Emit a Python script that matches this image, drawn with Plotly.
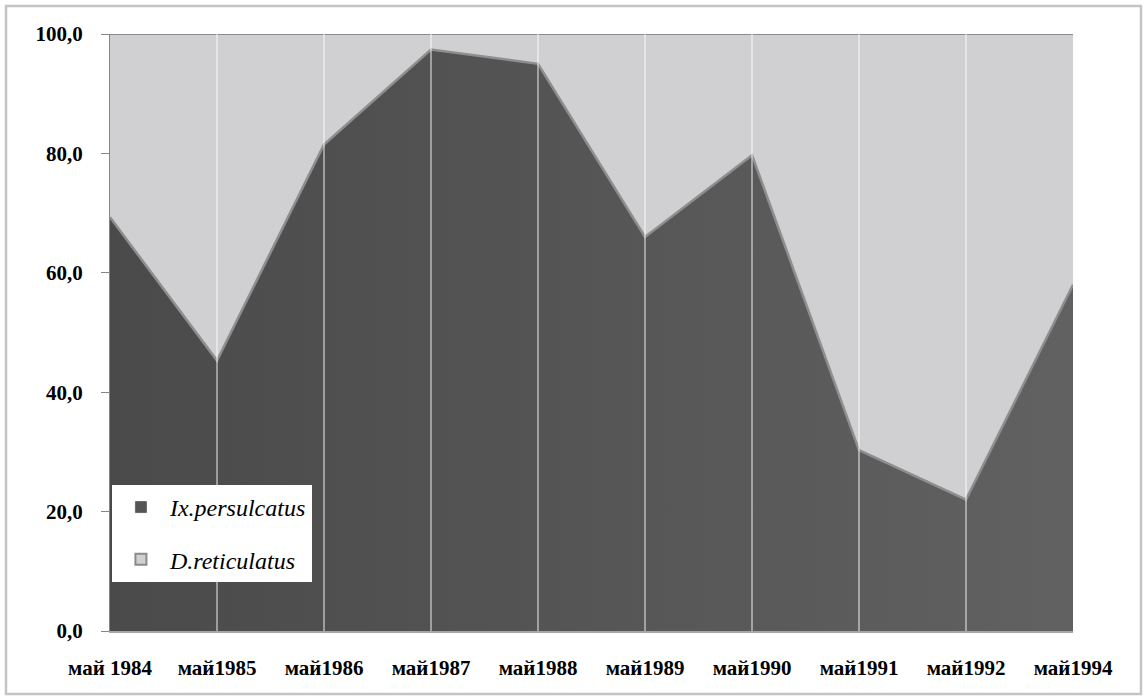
import plotly.graph_objects as go

# Survey dates (category labels) and the share of each tick species, %
dates = ["май 1984", "май1985", "май1986", "май1987", "май1988",
         "май1989", "май1990", "май1991", "май1992", "май1994"]
ix_persulcatus = [69.3, 45.3, 81.5, 97.4, 95.0, 66.0, 79.7, 30.3, 22.0, 58.0]
d_reticulatus = [30.7, 54.7, 18.5, 2.6, 5.0, 34.0, 20.3, 69.7, 78.0, 42.0]
y_ticks = [0, 20, 40, 60, 80, 100]

xs = list(range(len(dates)))
stack_top = [a + b for a, b in zip(ix_persulcatus, d_reticulatus)]

TICK_FONT = dict(family="Liberation Serif", size=21, color="#000000", weight="bold")
LEG_FONT = dict(family="Liberation Serif", size=24, color="#000000", style="italic")

fig = go.Figure()

# lower band: Ix. persulcatus, dark fill shading left to right
fig.add_trace(go.Scatter(
    x=xs, y=ix_persulcatus, mode="lines", fill="tozeroy",
    fillgradient=dict(type="horizontal",
                      colorscale=[[0, "#4a4a4a"], [1, "#616161"]]),
    line=dict(color="#8e8e8e", width=2.5),
    showlegend=False, hoverinfo="skip",
))
# upper band: D. reticulatus, stacked up to 100 %
fig.add_trace(go.Scatter(
    x=xs, y=stack_top, mode="lines", fill="tonexty",
    fillcolor="#d0cfd1",
    line=dict(color="#8a8a8a", width=2),
    showlegend=False, hoverinfo="skip",
))

# legend entries with square swatches
fig.add_trace(go.Scatter(
    x=[None], y=[None], mode="markers", name="Ix.persulcatus",
    legendgroup="ix",
    marker=dict(symbol="square", size=11, color="#555555",
                line=dict(color="#6a6a6a", width=1)),
))
fig.add_trace(go.Scatter(
    x=[None], y=[None], mode="markers", name="D.reticulatus",
    legendgroup="dr",
    marker=dict(symbol="square", size=11, color="#d0cfd1",
                line=dict(color="#8a8a8a", width=2)),
))

# vertical category gridlines, drawn over the filled areas
grid_shapes = [
    dict(type="line", xref="x", yref="paper", x0=x, x1=x, y0=0, y1=1,
         line=dict(color="rgba(255,255,255,0.45)", width=2), layer="above")
    for x in xs[1:-1]
]

frame = dict(
    type="rect", xref="paper", yref="paper",
    x0=-0.108, x1=1.0706, y0=-0.1055, y1=1.0469,
    line=dict(color="#c4c4c4", width=2.5), fillcolor="rgba(0,0,0,0)",
    layer="below",
)

fig.update_layout(
    width=1144, height=700,
    margin=dict(l=110, r=71, t=34, b=69),
    paper_bgcolor="#ffffff", plot_bgcolor="#ffffff",
    separators=", ",
    showlegend=True,
    legend=dict(
        x=0.002, y=0.2446, xanchor="left", yanchor="top",
        bgcolor="#ffffff", borderwidth=0,
        font=LEG_FONT, tracegroupgap=18, itemwidth=48,
        traceorder="grouped",
    ),
    xaxis=dict(
        range=[0, len(dates) - 1], tickvals=xs, ticktext=dates,
        showgrid=False, zeroline=False,
        showline=True, linecolor="#a6a6a6", linewidth=2,
        ticks="", ticklabelstandoff=17, tickfont=TICK_FONT,
    ),
    yaxis=dict(
        range=[0, 100], tickvals=y_ticks, tickformat=".1f",
        showgrid=False, zeroline=False,
        showline=True, linecolor="#868686", linewidth=1,
        ticks="outside", ticklen=8, tickcolor="#868686", tickwidth=1,
        ticklabelstandoff=14, tickfont=TICK_FONT,
    ),
    shapes=[frame] + grid_shapes,
)

fig.write_html("out.html")
